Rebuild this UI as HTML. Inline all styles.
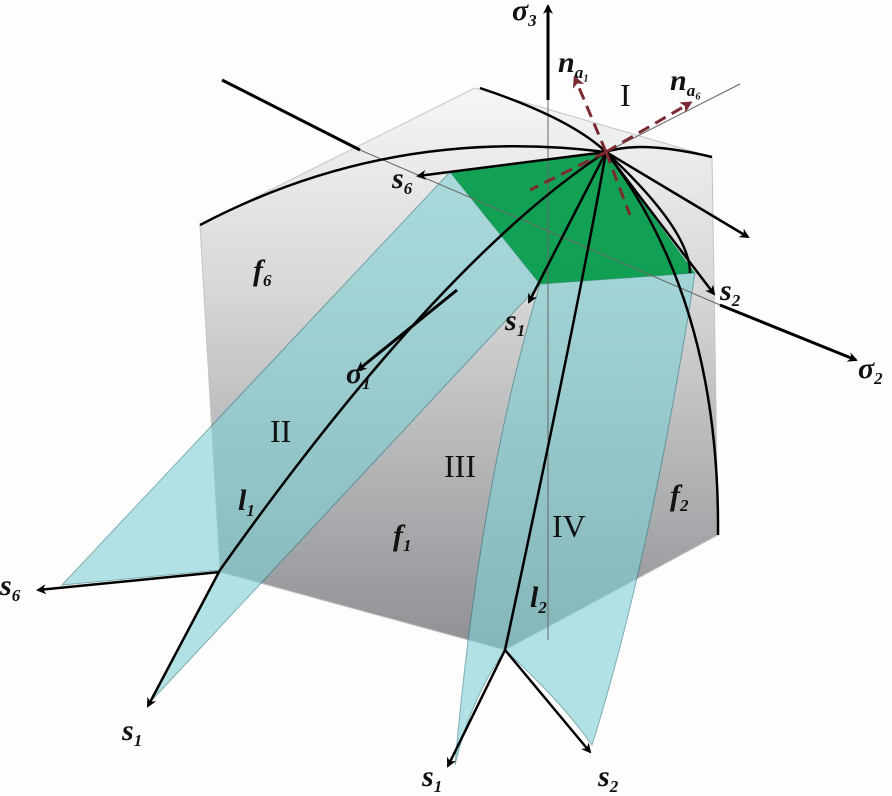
<!DOCTYPE html>
<html><head><meta charset="utf-8"><style>
body{margin:0;background:#fff}
svg{display:block}
text{font-family:"Liberation Serif",serif;font-style:italic;font-weight:bold;font-size:30px;fill:#111}
.r{font-style:normal;font-weight:normal;font-size:32px;font-family:"Liberation Serif",serif}
.s{font-size:17px}
</style></head><body>
<svg width="892" height="796" viewBox="0 0 892 796">
<defs>
<linearGradient id="g" x1="0" y1="0" x2="0" y2="1">
<stop offset="0" stop-color="#f6f6f6"/><stop offset="0.35" stop-color="#d8d8d8"/><stop offset="1" stop-color="#8e9094"/></linearGradient>
<marker id="a" markerWidth="10" markerHeight="10" refX="8" refY="5" orient="auto" markerUnits="userSpaceOnUse"><path d="M0,0 L10,5 L0,10 L3,5z" fill="#000"/></marker>
<marker id="ar" markerWidth="12" markerHeight="12" refX="9" refY="6" orient="auto" markerUnits="userSpaceOnUse"><path d="M0,0 L12,6 L0,12 L3,6z" fill="#7a2a30"/></marker>
</defs>
<rect width="892" height="796" fill="#fdfdfd"/>
<polygon points="200,225 475,88 712,157 718,535 505,650 220,572" fill="url(#g)" stroke="#c4c4c4" stroke-width="1"/>
<polygon points="450,172 540,284 152,700 220,570 62,585" fill="#7fd0d4" opacity="0.6" stroke="#2a7a80" stroke-width="1"/>
<path d="M540,284 L695,273 Q650,560 592,745 Q560,700 505,650 Q470,700 455,765 Q480,480 540,284z" fill="#7fd0d4" opacity="0.6" stroke="#2a7a80" stroke-width="1"/>
<polygon points="450,172 606,152 695,273 540,284" fill="#009a48" opacity="0.92"/>
<line x1="548" y1="640" x2="548" y2="100" stroke="#666" stroke-width="1"/>
<line x1="548" y1="100" x2="548" y2="6" stroke="#000" stroke-width="3" marker-end="url(#a)"/>
<line x1="606" y1="152" x2="740" y2="84" stroke="#666" stroke-width="1"/>
<line x1="360" y1="150" x2="720" y2="305" stroke="#666" stroke-width="1"/>
<line x1="720" y1="305" x2="856" y2="360" stroke="#000" stroke-width="3" marker-end="url(#a)"/>
<line x1="457" y1="290" x2="358" y2="370" stroke="#000" stroke-width="3" marker-end="url(#a)"/>
<line x1="222" y1="80" x2="360" y2="150" stroke="#000" stroke-width="3"/>
<g fill="none" stroke="#000" stroke-width="2.5">
<path d="M200,225 Q390,125 606,152 Q640,140 712,157"/>
<path d="M480,88 Q570,118 606,152"/>
<path d="M606,152 Q720,300 718,535"/>
<path d="M606,152 Q690,230 690,273"/>
<path d="M606,152 Q580,300 505,650"/>
<path d="M606,152 Q440,260 220,570"/>
<line x1="220" y1="570" x2="148" y2="706" marker-end="url(#a)"/>
<line x1="505" y1="650" x2="448" y2="766" marker-end="url(#a)"/>
<line x1="505" y1="650" x2="590" y2="752" marker-end="url(#a)"/>
<line x1="220" y1="572" x2="38" y2="590" marker-end="url(#a)"/>
<line x1="606" y1="152" x2="418" y2="176" marker-end="url(#a)"/>
<line x1="606" y1="152" x2="714" y2="294" marker-end="url(#a)"/>
<line x1="606" y1="152" x2="748" y2="237" marker-end="url(#a)"/>
<line x1="606" y1="152" x2="529" y2="302" marker-end="url(#a)"/>
</g>
<g stroke="#7a2a30" stroke-width="3" stroke-dasharray="12,7" fill="none">
<line x1="606" y1="152" x2="575" y2="78" marker-end="url(#ar)"/>
<line x1="606" y1="152" x2="690" y2="103" marker-end="url(#ar)"/>
<line x1="606" y1="152" x2="530" y2="190"/>
<line x1="606" y1="152" x2="630" y2="215"/>
</g>
<text x="512" y="20">σ<tspan class="s" dy="6">3</tspan></text>
<text x="558" y="72">n<tspan class="s" dy="6">a₁</tspan></text>
<text class="r" x="620" y="106">I</text>
<text x="670" y="90">n<tspan class="s" dy="6">a₆</tspan></text>
<text x="392" y="188">s<tspan class="s" dy="6">6</tspan></text>
<text x="720" y="300">s<tspan class="s" dy="6">2</tspan></text>
<text x="505" y="330">s<tspan class="s" dy="6">1</tspan></text>
<text x="346" y="383">σ<tspan class="s" dy="6">1</tspan></text>
<text x="858" y="378">σ<tspan class="s" dy="6">2</tspan></text>
<text x="253" y="280">f<tspan class="s" dy="6">6</tspan></text>
<text class="r" x="270" y="442">II</text>
<text class="r" x="444" y="477">III</text>
<text x="238" y="510">l<tspan class="s" dy="6">1</tspan></text>
<text x="393" y="545">f<tspan class="s" dy="6">1</tspan></text>
<text class="r" x="552" y="537">IV</text>
<text x="670" y="505">f<tspan class="s" dy="6">2</tspan></text>
<text x="530" y="607">l<tspan class="s" dy="6">2</tspan></text>
<text x="0" y="595">s<tspan class="s" dy="6">6</tspan></text>
<text x="122" y="740">s<tspan class="s" dy="6">1</tspan></text>
<text x="422" y="786">s<tspan class="s" dy="6">1</tspan></text>
<text x="598" y="786">s<tspan class="s" dy="6">2</tspan></text>
</svg>
</body></html>
